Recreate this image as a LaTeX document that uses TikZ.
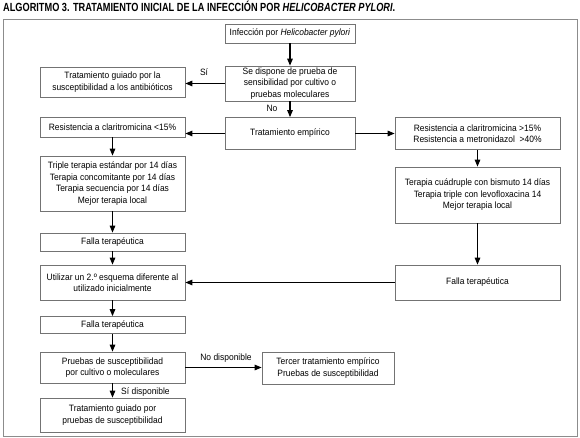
\documentclass[tikz,border=0pt]{standalone}
\usepackage{fontspec}
\setmainfont{Liberation Sans}[FakeStretch=0.92]
\newfontfamily\titlefont{Liberation Sans}[FakeStretch=0.78]
\usetikzlibrary{arrows.meta}
\tikzset{
  box/.style={draw=black!55, line width=0.7pt, align=center, inner sep=1pt, font=\fontsize{9.2}{11.5}\selectfont},
  sz/.style 2 args={minimum width=#1pt, minimum height=#2pt},
  arr/.style={line width=1.2pt, -{Triangle[length=7pt,width=5.5pt]}},
  lbl/.style={font=\fontsize{9.2}{10}\selectfont, inner sep=0pt},
  frame/.style={draw=black!45, line width=0.8pt}
}
\begin{document}
\begin{tikzpicture}[x=1pt,y=-1pt]
\useasboundingbox (0,0) rectangle (580,438);
\node[anchor=base west, inner sep=0pt, font=\titlefont\fontsize{11.8}{12}\selectfont\bfseries] (title) at (3,11.5) {ALGORITMO 3. TRATAMIENTO INICIAL DE LA INFECCIÓN POR \textit{HELICOBACTER PYLORI}.};
\node[frame, anchor=north west, minimum width=574pt, minimum height=417pt, inner sep=0pt] (frm) at (3,19) {};

\node[box, sz={130}{19}] (b1) at (290,33.5) {Infección por \textit{Helicobacter pylori}};
\node[box, sz={130}{35}] (b2) at (290,83.5) {Se dispone de prueba de\\sensibilidad por cultivo o\\pruebas moleculares};
\node[box, sz={145}{30}] (g1) at (112.5,82) {Tratamiento guiado por la\\susceptibilidad a los antibióticos};
\node[box, sz={130}{32}] (emp) at (290,133.5) {Tratamiento empírico};
\node[box, sz={145}{20}] (r15) at (112.5,127) {Resistencia a claritromicina <15\%};
\node[box, sz={165}{32}] (r40) at (477.5,133.5) {Resistencia a claritromicina >15\%\\Resistencia a metronidazol\ \ >40\%};
\node[box, sz={145}{55}] (tri) at (112.5,183.5) {Triple terapia estándar por 14 días\\Terapia concomitante por 14 días\\Terapia secuencia por 14 días\\Mejor terapia local};
\node[box, sz={165}{56}] (cua) at (477.5,195) {Terapia cuádruple con bismuto 14 días\\Terapia triple con levofloxacina 14\\Mejor terapia local};
\node[box, sz={145}{18}] (f1) at (112.5,242) {Falla terapéutica};
\node[box, sz={145}{35}] (uti) at (112.5,282.5) {Utilizar un 2.º esquema diferente al\\utilizado inicialmente};
\node[box, sz={165}{35}] (fr) at (477.5,282.5) {Falla terapéutica};
\node[box, sz={145}{17}] (f2) at (112.5,325) {Falla terapéutica};
\node[box, sz={145}{31}] (pru) at (112.5,367.5) {Pruebas de susceptibilidad\\por cultivo o moleculares};
\node[box, sz={132}{32}] (ter) at (328,368) {Tercer tratamiento empírico\\Pruebas de susceptibilidad};
\node[box, sz={145}{34}] (fin) at (112.5,415) {Tratamiento guiado por\\pruebas de susceptibilidad};

\draw[arr] (b1.south) -- (b2.north);
\draw[arr] (b2.west) -- (b2.west -| g1.east);
\draw[arr] (b2.south) -- (emp.north);
\draw[arr] (emp.west) -- (emp.west -| r15.east);
\draw[arr] (emp.east) -- (emp.east -| r40.west);
\draw[arr] (r15.south) -- (tri.north);
\draw[arr] (tri.south) -- (f1.north);
\draw[arr] (f1.south) -- (uti.north);
\draw[arr] (uti.south) -- (f2.north);
\draw[arr] (f2.south) -- (pru.north);
\draw[arr] (pru.south) -- (fin.north);
\draw[arr] (r40.south) -- (cua.north);
\draw[arr] (cua.south) -- (fr.north);
\draw[arr] (fr.west) -- (fr.west -| uti.east);
\draw[arr] (pru.east) -- (pru.east -| ter.west);

\node[lbl] (lsi) at (204,72) {Sí};
\node[lbl] (lno) at (272,108) {No};
\node[lbl] (lnd) at (226,358) {No disponible};
\node[lbl, anchor=west] (lsd) at (121,392) {Sí disponible};
\end{tikzpicture}
\end{document}
